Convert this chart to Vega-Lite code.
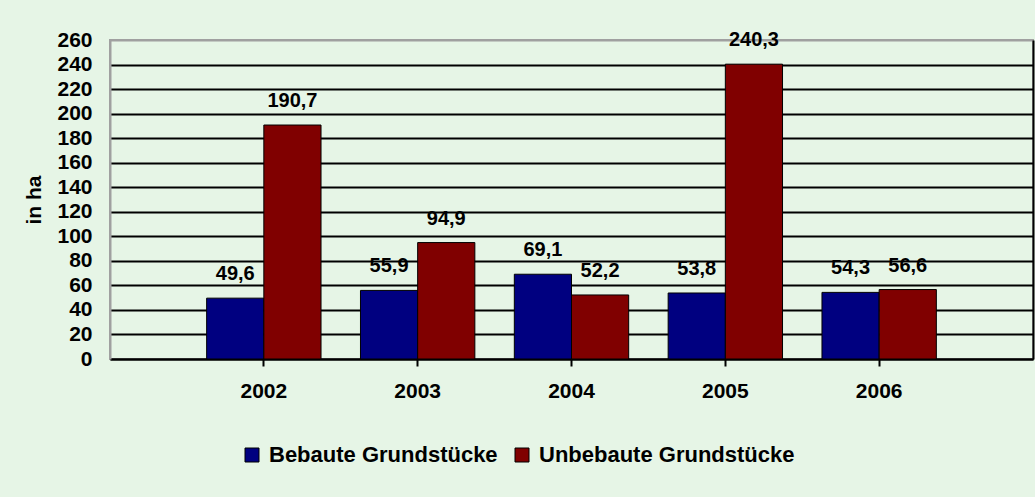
{
  "$schema": "https://vega.github.io/schema/vega-lite/v6.json",
  "autosize": {"type": "none"},
  "width": 923,
  "height": 319,
  "padding": {"left": 110, "top": 40, "right": 2, "bottom": 138},
  "background": "#e6f5e6",
  "config": {
    "font": "Liberation Sans",
    "view": {"stroke": "#a0a0a0", "strokeWidth": 2, "fill": "#e6f5e6"},
    "locale": {"number": {"decimal": ",", "thousands": ".", "grouping": [3], "currency": ["", " €"]}}
  },
  "data": {
    "values": [
      {"year": "2002", "series": "Bebaute Grundstücke", "value": 49.6},
      {"year": "2002", "series": "Unbebaute Grundstücke", "value": 190.7},
      {"year": "2003", "series": "Bebaute Grundstücke", "value": 55.9},
      {"year": "2003", "series": "Unbebaute Grundstücke", "value": 94.9},
      {"year": "2004", "series": "Bebaute Grundstücke", "value": 69.1},
      {"year": "2004", "series": "Unbebaute Grundstücke", "value": 52.2},
      {"year": "2005", "series": "Bebaute Grundstücke", "value": 53.8},
      {"year": "2005", "series": "Unbebaute Grundstücke", "value": 240.3},
      {"year": "2006", "series": "Bebaute Grundstücke", "value": 54.3},
      {"year": "2006", "series": "Unbebaute Grundstücke", "value": 56.6}
    ]
  },
  "encoding": {
    "x": {
      "field": "year", "type": "nominal",
      "scale": {"paddingInner": 0, "paddingOuter": 0.5},
      "axis": {
        "title": null, "labelAngle": 0, "labelFont": "Liberation Sans", "labelFontWeight": "bold",
        "labelFontSize": 21, "labelColor": "black", "labelPadding": 25, "labelBaseline": "middle",
        "domainColor": "black", "domainWidth": 2, "tickColor": "black", "tickWidth": 2, "tickSize": 7
      }
    },
    "xOffset": {
      "field": "series", "type": "nominal",
      "scale": {"paddingInner": 0, "paddingOuter": 0.345}
    },
    "y": {
      "field": "value", "type": "quantitative",
      "scale": {"domain": [0, 260], "nice": false},
      "axis": {
        "title": "in ha", "titleFont": "Liberation Sans", "titleFontWeight": "bold", "titleFontSize": 21,
        "titleColor": "black", "titlePadding": 12,
        "values": [0, 20, 40, 60, 80, 100, 120, 140, 160, 180, 200, 220, 240, 260],
        "format": "d",
        "labelFont": "Liberation Sans", "labelFontWeight": "bold", "labelFontSize": 21, "labelColor": "black",
        "labelPadding": 18, "ticks": false,
        "domainColor": "#a0a0a0", "domainWidth": 2,
        "grid": true, "gridWidth": 2,
        "gridColor": {"condition": {"test": "datum.value === 260", "value": "#a0a0a0"}, "value": "black"}
      }
    }
  },
  "layer": [
    {
      "mark": {"type": "bar", "stroke": "black", "strokeWidth": 1},
      "encoding": {
        "color": {
          "field": "series", "type": "nominal",
          "scale": {"domain": ["Bebaute Grundstücke", "Unbebaute Grundstücke"], "range": ["#000080", "#800000"]},
          "legend": {
            "title": null, "orient": "none", "direction": "horizontal",
            "legendX": 131, "legendY": 404,
            "symbolType": "square", "symbolSize": 196, "symbolStrokeColor": "black", "symbolStrokeWidth": 1,
            "labelFont": "Liberation Sans", "labelFontWeight": "bold", "labelFontSize": 22, "labelColor": "black",
            "labelOffset": 6, "columnPadding": 13, "labelLimit": 0
          }
        }
      }
    },
    {
      "mark": {"type": "text", "dy": -24, "baseline": "middle", "font": "Liberation Sans", "fontWeight": "bold", "fontSize": 20, "color": "black"},
      "encoding": {
        "text": {"field": "value", "type": "quantitative", "format": ".1f"},
        "y": {
          "field": "value", "type": "quantitative",
          "axis": {"orient": "right", "title": null, "labels": false, "ticks": false, "grid": false, "domainColor": "black", "domainWidth": 2}
        }
      }
    }
  ],
  "resolve": {"axis": {"y": "independent"}}
}
